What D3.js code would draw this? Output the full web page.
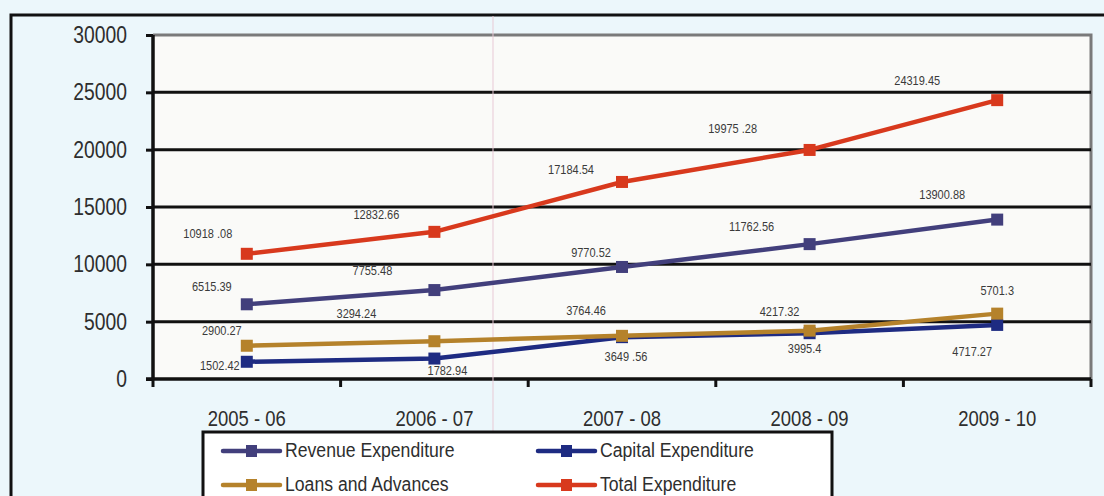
<!DOCTYPE html>
<html>
<head>
<meta charset="utf-8">
<script src="https://cdn.jsdelivr.net/npm/d3@7/dist/d3.min.js"></script>
<style>
  html, body { margin: 0; padding: 0; background: #ecf7fb; }
  svg { display: block; }
</style>
</head>
<body>
<svg id="chart" width="1104" height="496"></svg>
<script>
// Expenditure by year (Rs. crore)
const years = ["2005 - 06", "2006 - 07", "2007 - 08", "2008 - 09", "2009 - 10"];
const revenueExpenditure = [6515.39, 7755.48, 9770.52, 11762.56, 13900.88];
const capitalExpenditure = [1502.42, 1782.94, 3649.56, 3995.4, 4717.27];
const loansAndAdvances = [2900.27, 3294.24, 3764.46, 4217.32, 5701.3];
const totalExpenditure = [10918.08, 12832.66, 17184.54, 19975.28, 24319.45];
const yTicks = [0, 5000, 10000, 15000, 20000, 25000, 30000];

// Printed value labels (as typeset in the source table)
const revenueLabels = ["6515.39", "7755.48", "9770.52", "11762.56", "13900.88"];
const capitalLabels = ["1502.42", "1782.94", "3649 .56", "3995.4", "4717.27"];
const loansLabels = ["2900.27", "3294.24", "3764.46", "4217.32", "5701.3"];
const totalLabels = ["10918 .08", "12832.66", "17184.54", "19975 .28", "24319.45"];

const series = [
  { name: "Revenue Expenditure", values: revenueExpenditure, labels: revenueLabels, color: "#423f7c",
    off: [[-35, -17], [-62, -18], [-31, -13], [-58, -16], [-55, -24]] },
  { name: "Capital Expenditure", values: capitalExpenditure, labels: capitalLabels, color: "#1e2b82",
    off: [[-27, 5], [13, 13], [4, 21], [-5, 17], [-25, 28]] },
  { name: "Loans and Advances", values: loansAndAdvances, labels: loansLabels, color: "#b5822b",
    off: [[-25, -14], [-78, -27], [-36, -24], [-30, -18], [0, -22]] },
  { name: "Total Expenditure", values: totalExpenditure, labels: totalLabels, color: "#d8391d",
    off: [[-39, -19], [-58, -16], [-51, -11], [-77, -20], [-80, -18]] }
];

// Condensed look: regular sans squeezed horizontally
const font = "'Liberation Sans', Arial, sans-serif";
const SQ = 0.84;
const svg = d3.select("#chart");

// Outer frame
svg.append("rect").attr("x", 0).attr("y", 0).attr("width", 1104).attr("height", 496).attr("fill", "#ecf7fb");
svg.append("path").attr("d", "M11,500 V15 H1110")
  .attr("fill", "none").attr("stroke", "#111").attr("stroke-width", 3);

const plotL = 153, plotR = 1091, plotT = 35, plotB = 379;

const x = d3.scaleBand().domain(years).range([plotL, plotR]).padding(0);
const y = d3.scaleLinear().domain([0, 30000]).range([plotB, plotT]);

// Plot area
svg.append("rect").attr("x", plotL).attr("y", plotT).attr("width", plotR - plotL).attr("height", plotB - plotT)
  .attr("fill", "#fafaf8");
svg.append("path").attr("d", `M${plotL},${plotT} H${plotR} V${plotB}`)
  .attr("fill", "none").attr("stroke", "#7a7a7a").attr("stroke-width", 3);

// Horizontal gridlines
svg.append("g").selectAll("line").data(yTicks.filter(t => t > 0 && t < 30000)).join("line")
  .attr("x1", plotL).attr("x2", plotR)
  .attr("y1", d => y(d)).attr("y2", d => y(d))
  .attr("stroke", "#111").attr("stroke-width", 3);

// Y axis
const yAxis = svg.append("g").attr("transform", `translate(${plotL},0)`)
  .call(d3.axisLeft(y).tickValues(yTicks).tickSize(7).tickPadding(19).tickFormat(d3.format("d")));
yAxis.select(".domain").attr("stroke", "#111").attr("stroke-width", 3.5).attr("d", `M0,${plotT}V${plotB}`);
yAxis.selectAll(".tick line").attr("stroke", "#111").attr("stroke-width", 3);
yAxis.selectAll(".tick text")
  .attr("x", -26 / SQ).attr("transform", `scale(${SQ},1)`)
  .attr("font-family", font).attr("font-size", 23).attr("fill", "#2e2e2e");

// X axis with ticks at category boundaries
const xAxisG = svg.append("g").attr("transform", `translate(0,${plotB})`);
xAxisG.append("line").attr("x1", plotL - 7).attr("x2", plotR).attr("y1", 0).attr("y2", 0)
  .attr("stroke", "#111").attr("stroke-width", 3.5);
const bounds = years.map(d => x(d) + x.bandwidth());
xAxisG.selectAll("line.t").data([plotL].concat(bounds)).join("line").attr("class", "t")
  .attr("x1", d => d).attr("x2", d => d).attr("y1", 0).attr("y2", 8)
  .attr("stroke", "#111").attr("stroke-width", 3);
xAxisG.selectAll("text").data(years).join("text")
  .attr("transform", d => `translate(${x(d) + x.bandwidth() / 2},47) scale(${SQ},1)`)
  .attr("text-anchor", "middle")
  .attr("font-family", font).attr("font-size", 22).attr("fill", "#2e2e2e")
  .text(d => d);

// Faint vertical crease
svg.append("line").attr("x1", 493).attr("x2", 493).attr("y1", 16).attr("y2", 496)
  .attr("stroke", "#e9c9d6").attr("stroke-width", 1.2).attr("opacity", 0.8);

// Series lines and markers
const cx = i => x(years[i]) + x.bandwidth() / 2;
const line = d3.line().x((d, i) => cx(i)).y(d => y(d));

series.forEach(s => {
  const g = svg.append("g");
  g.append("path").datum(s.values).attr("d", line)
    .attr("fill", "none").attr("stroke", s.color).attr("stroke-width", 4.5).attr("stroke-linejoin", "round");
  g.selectAll("rect").data(s.values).join("rect")
    .attr("x", (d, i) => cx(i) - 6).attr("y", d => y(d) - 6)
    .attr("width", 12).attr("height", 12).attr("fill", s.color);
});

// Value labels
series.forEach(s => {
  svg.append("g").selectAll("text").data(s.values).join("text")
    .attr("transform", (d, i) => `translate(${cx(i) + s.off[i][0]},${y(d) + s.off[i][1]}) scale(0.88,1)`)
    .attr("text-anchor", "middle").attr("dominant-baseline", "middle")
    .attr("font-family", font).attr("font-size", 12.5).attr("fill", "#3a3a3a")
    .text((d, i) => s.labels[i]);
});

// Legend
const legend = svg.append("g");
legend.append("path").attr("d", "M203,500 V432 H832 V500")
  .attr("fill", "#ffffff").attr("stroke", "#111").attr("stroke-width", 3);
const legPos = [[223, 451], [538, 451], [223, 485], [538, 485]];
series.forEach((s, i) => {
  const [lx, ly] = legPos[i];
  legend.append("line").attr("x1", lx).attr("x2", lx + 57).attr("y1", ly).attr("y2", ly)
    .attr("stroke", s.color).attr("stroke-width", 4.5).attr("stroke-linecap", "round");
  legend.append("rect").attr("x", lx + 23).attr("y", ly - 6).attr("width", 11).attr("height", 12).attr("fill", s.color);
  legend.append("text").attr("transform", `translate(${lx + 62},${ly}) scale(${SQ},1)`)
    .attr("dominant-baseline", "middle")
    .attr("font-family", font).attr("font-size", 21).attr("fill", "#2e2e2e").text(s.name);
});
</script>
</body>
</html>
